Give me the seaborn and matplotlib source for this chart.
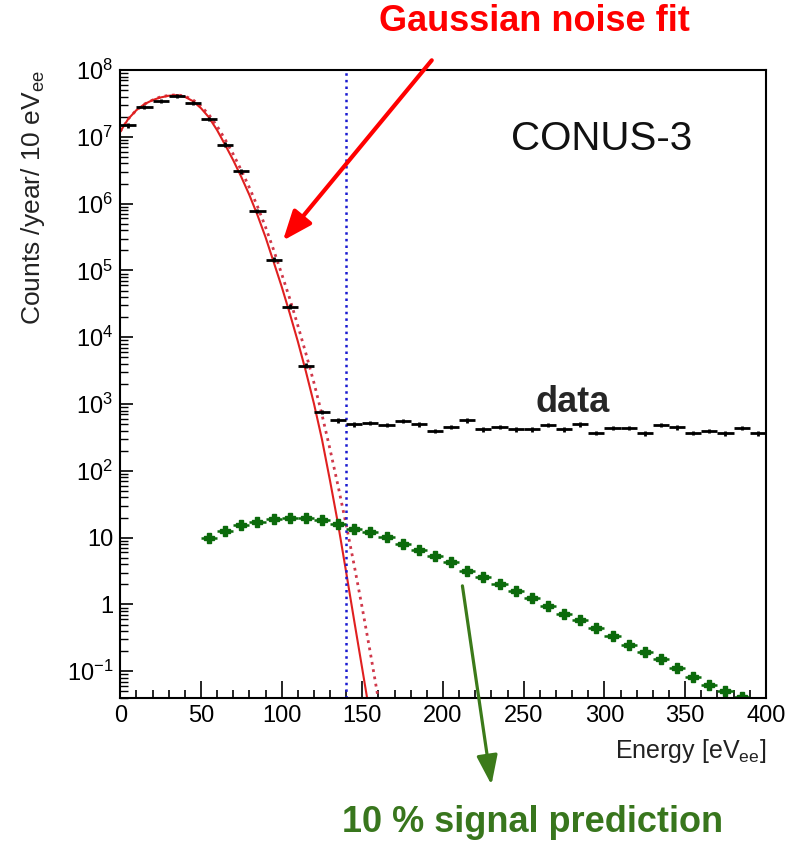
import numpy as np
import pandas as pd
import matplotlib
matplotlib.use("Agg")
import matplotlib.pyplot as plt
import matplotlib.ticker as mticker
import seaborn as sns

# --- data (counts / year / 10 eVee) ---
data_energy = [5, 15, 25, 35, 45, 55, 65, 75, 85, 95, 105, 115, 125, 135,
               145, 155, 165, 175, 185, 195, 205, 215, 225, 235, 245, 255,
               265, 275, 285, 295, 305, 315, 325, 335, 345, 355, 365, 375,
               385, 395]
data_counts = [1.50e7, 2.82e7, 3.47e7, 4.12e7, 3.24e7, 1.86e7, 7.67e6, 3.05e6,
               7.76e5, 1.45e5, 2.88e4, 3760, 759, 575,
               501, 525, 490, 562, 501, 398, 457, 575, 417, 457, 417, 417,
               490, 417, 501, 372, 437, 437, 363, 490, 447, 372, 398, 363,
               437, 363]

signal_energy = [55, 65, 75, 85, 95, 105, 115, 125, 135, 145, 155, 165, 175,
                 185, 195, 205, 215, 225, 235, 245, 255, 265, 275, 285, 295,
                 305, 315, 325, 335, 345, 355, 365, 375, 385]
signal_counts = [9.9, 12.6, 15.5, 17.4, 19.1, 19.5, 19.5, 18.2, 16.2, 13.5,
                 12.0, 10.2, 8.1, 6.5, 5.4, 4.3, 3.2, 2.6, 2.0, 1.58, 1.23,
                 0.95, 0.72, 0.58, 0.44, 0.34, 0.25, 0.195, 0.151, 0.112,
                 0.081, 0.062, 0.050, 0.041]

fit_energy = [0, 5, 10, 15, 20, 25, 30, 35, 40, 45, 50, 55, 60, 65, 70, 75,
              80, 85, 90, 95, 100, 105, 110, 115, 120, 125, 130, 135, 140,
              145, 150, 155]
fit_counts = [1.20e7, 1.86e7, 2.51e7, 3.09e7, 3.55e7, 3.89e7, 4.12e7, 4.22e7,
              3.98e7, 3.43e7, 2.69e7, 1.95e7, 1.26e7, 7.59e6, 4.47e6, 2.51e6,
              1.35e6, 6.76e5, 3.16e5, 1.35e5, 5.75e4, 2.29e4, 8.71e3, 3.09e3,
              1.02e3, 295, 70.8, 15.8, 3.02, 0.562, 0.107, 0.020]

fit2_energy = [0, 5, 10, 15, 20, 25, 30, 35, 40, 45, 50, 55, 60, 65, 70, 75,
               80, 85, 90, 95, 100, 105, 110, 115, 120, 125, 130, 135, 140,
               145, 150, 155, 160]
fit2_counts = [1.20e7, 1.86e7, 2.51e7, 3.09e7, 3.55e7, 3.98e7, 4.17e7, 4.27e7,
               4.07e7, 3.59e7, 2.88e7, 2.14e7, 1.45e7, 9.12e6, 5.50e6, 3.16e6,
               1.74e6, 9.12e5, 4.47e5, 2.04e5, 8.91e4, 3.80e4, 1.51e4, 5.75e3,
               2.09e3, 692, 209, 58.9, 15.5, 3.80, 0.871, 0.186, 0.0372]

threshold = 140
bin_half = 5
data_rel_err = 0.08

ytick_vals = [1e-1, 1, 10, 1e2, 1e3, 1e4, 1e5, 1e6, 1e7, 1e8]
ytick_labels = ['$10^{-1}$', '1', '10', '$10^{2}$', '$10^{3}$', '$10^{4}$',
                '$10^{5}$', '$10^{6}$', '$10^{7}$', '$10^{8}$']

sns.set_style("ticks")
plt.rcParams['font.family'] = ['Liberation Sans', 'DejaVu Sans']
plt.rcParams['mathtext.fontset'] = 'custom'
plt.rcParams['mathtext.rm'] = 'Liberation Sans'
plt.rcParams['mathtext.it'] = 'Liberation Sans:italic'
plt.rcParams['mathtext.bf'] = 'Liberation Sans:bold'

fig = plt.figure(figsize=(8.07, 8.44), dpi=100)
ax = fig.add_axes([0.149, 0.173, 0.800, 0.744])
ax.set_yscale('log')

# Gaussian noise fit curves
fit_df = pd.DataFrame({'energy': fit_energy, 'counts': fit_counts})
fit2_df = pd.DataFrame({'energy': fit2_energy, 'counts': fit2_counts})
sns.lineplot(data=fit2_df, x='energy', y='counts', ax=ax, color='#d0384a',
             linestyle=':', linewidth=2.0, estimator=None, sort=False)
sns.lineplot(data=fit_df, x='energy', y='counts', ax=ax, color='#e02020',
             linewidth=1.5, estimator=None, sort=False)

# threshold line
ax.axvline(threshold, color='#1a1ad0', linestyle=':', linewidth=1.8)

# measured spectrum
data_counts = np.array(data_counts)
ax.errorbar(data_energy, data_counts, xerr=bin_half,
            yerr=data_counts * data_rel_err, fmt='none', ecolor='black',
            elinewidth=2.0, capsize=0)

# signal prediction
ax.errorbar(signal_energy, signal_counts, xerr=bin_half, fmt='P',
            color='#0b6a0b', markersize=7, elinewidth=1.8, capsize=0)

ax.set_xlim(0, 400)
ax.set_ylim(10 ** -1.40, 1e8)
ax.xaxis.set_major_locator(mticker.MultipleLocator(50))
ax.xaxis.set_minor_locator(mticker.MultipleLocator(10))
ax.set_yticks(ytick_vals)
ax.set_yticklabels(ytick_labels)
ax.yaxis.set_minor_locator(mticker.LogLocator(base=10, subs=np.arange(2, 10), numticks=30))
ax.yaxis.set_minor_formatter(mticker.NullFormatter())

ax.tick_params(axis='both', which='both', direction='in', top=False, right=False,
               labelsize=17, colors='black')
ax.tick_params(axis='x', which='major', length=12, width=1.2, pad=5)
ax.tick_params(axis='x', which='minor', length=6, width=1.2)
ax.tick_params(axis='y', which='major', length=9, width=1.2, pad=5)
ax.tick_params(axis='y', which='minor', length=5.5, width=1.0)
for sp in ax.spines.values():
    sp.set_linewidth(1.5)
    sp.set_color('black')

ax.set_xlabel('Energy [eV$_{\\mathrm{ee}}$]', fontsize=18, loc='right',
              color='#222222')
ax.set_ylabel('Counts /year/ 10 eV$_{\\mathrm{ee}}$', fontsize=19, loc='top',
              color='#222222')
ax.xaxis.set_label_coords(1.0, -0.062)
ax.yaxis.set_label_coords(-0.1135, 1.0)

ax.text(298, 9.3e6, 'CONUS-3', fontsize=29, ha='center', va='center',
        color='#111111')
ax.text(280, 1050, 'data', fontsize=26, fontweight='bold', ha='center',
        va='center')

# annotations
ax.annotate('', xy=(100.8, 2.8e5), xytext=(193, 1.4e8),
            arrowprops=dict(arrowstyle='-|>,head_length=0.9,head_width=0.36',
                            mutation_scale=20, lw=3, color='#ff0000',
                            shrinkA=0, shrinkB=0))
ax.annotate('', xy=(230, 10 ** -2.70), xytext=(212, 1.9),
            arrowprops=dict(arrowstyle='-|>,head_length=0.9,head_width=0.32',
                            mutation_scale=20, lw=2.3, color='#3b7a1a',
                            shrinkA=0, shrinkB=0),
            annotation_clip=False)
fig.text(0.6617, 0.974, 'Gaussian noise fit', fontsize=26, fontweight='bold',
         color='#ff0000', ha='center', va='center')
fig.text(0.660, 0.0249, '10 % signal prediction', fontsize=26,
         fontweight='bold', color='#38761d', ha='center', va='center')

fig.savefig('out.png', dpi=100)
